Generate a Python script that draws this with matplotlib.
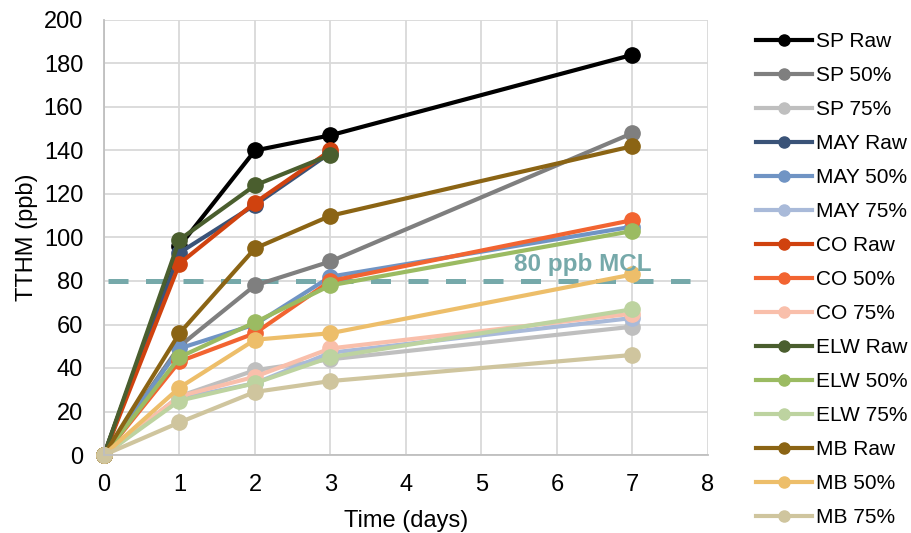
import matplotlib
matplotlib.use("Agg")
import matplotlib.pyplot as plt

plt.rcParams['font.family'] = ['Liberation Sans', 'DejaVu Sans']

days_full = [0, 1, 2, 3, 7]

series_names = ["SP Raw", "SP 50%", "SP 75%",
                "MAY Raw", "MAY 50%", "MAY 75%",
                "CO Raw", "CO 50%", "CO 75%",
                "ELW Raw", "ELW 50%", "ELW 75%",
                "MB Raw", "MB 50%", "MB 75%"]

sp_raw = [0, 96, 140, 147, 184]
sp_50 = [0, 50, 78, 89, 148]
sp_75 = [0, 27, 39, 44, 59]
may_raw = [0, 93, 115, 139]
may_50 = [0, 49, 60, 82, 105]
may_75 = [0, 26, 33, 47, 63]
co_raw = [0, 88, 116, 140]
co_50 = [0, 43, 56, 80, 108]
co_75 = [0, 27, 36, 49, 65]
elw_raw = [0, 99, 124, 138]
elw_50 = [0, 45, 61, 78, 103]
elw_75 = [0, 25, 33, 45, 67]
mb_raw = [0, 56, 95, 110, 142]
mb_50 = [0, 31, 53, 56, 83]
mb_75 = [0, 15, 29, 34, 46]

series_values = [sp_raw, sp_50, sp_75, may_raw, may_50, may_75,
                 co_raw, co_50, co_75, elw_raw, elw_50, elw_75,
                 mb_raw, mb_50, mb_75]

colors = ["#000000", "#7F7F7F", "#BFBFBF",
          "#3A5378", "#7094C4", "#A9BAD9",
          "#D0420F", "#F26431", "#F9BFAB",
          "#4A5E2E", "#9BBB62", "#BDD3A0",
          "#8B6414", "#EDBE6A", "#CFC59E"]

mcl_value = 80
mcl_label = "80 ppb MCL"
mcl_x = [0.05, 7.76]

fs = 17
lfs = 15

fig = plt.figure(figsize=(9.12, 5.33), dpi=100)
ax = fig.add_axes([104/912, 1 - 455/533, (708-104)/912, (455-20)/533])

ax.plot(mcl_x, [mcl_value, mcl_value], color="#76A9AA", lw=3.6,
        dashes=(4.0, 3.5), dash_capstyle='butt', zorder=1)

for name, vals, c in zip(series_names, series_values, colors):
    x = days_full[:len(vals)]
    ax.plot(x, vals, color=c, lw=3.0, marker='o', markersize=11,
            label=name, zorder=2, clip_on=False)

ax.text(5.43, 87.5, mcl_label, color="#76A9AA", fontsize=17.5, fontweight='bold',
        va='center', ha='left', zorder=3)

ax.set_xlim(0, 8)
ax.set_ylim(0, 200)
ax.set_xticks(range(0, 9))
ax.set_yticks(range(0, 201, 20))
ax.grid(True, color="#D9D9D9", lw=1.3)
ax.set_axisbelow(True)
for s in ['top', 'right']:
    ax.spines[s].set_visible(False)
for s in ['left', 'bottom']:
    ax.spines[s].set_color("#BFBFBF")
    ax.spines[s].set_linewidth(1.3)
ax.tick_params(length=0, labelsize=fs)
ax.tick_params(axis='x', pad=14)
ax.tick_params(axis='y', pad=15)
ax.set_xlabel("Time (days)", fontsize=fs, labelpad=9.5)
ax.set_ylabel("TTHM (ppb)", fontsize=fs, labelpad=4)

leg = fig.legend(loc='upper left', bbox_to_anchor=(748/912, 1 - 24/533),
                 frameon=False, fontsize=lfs, handlelength=2.65,
                 labelspacing=0.72, handletextpad=0.2, borderaxespad=0)
for h in leg.legend_handles:
    h.set_markersize(8)

fig.savefig("out.png", dpi=100)
